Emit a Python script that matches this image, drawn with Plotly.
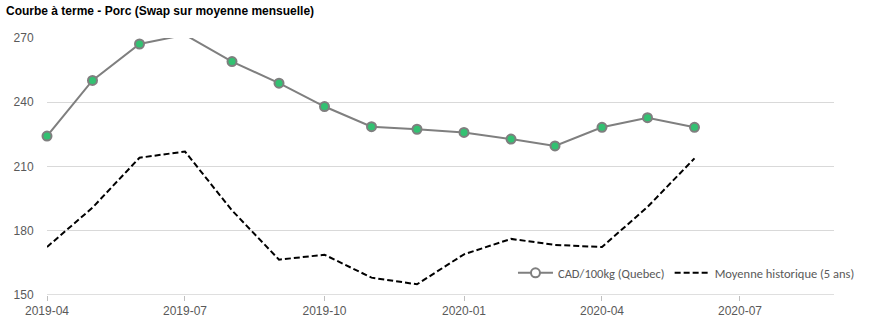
import plotly.graph_objects as go

months = ["2019-04-01", "2019-05-01", "2019-06-01", "2019-07-01", "2019-08-01",
          "2019-09-01", "2019-10-01", "2019-11-01", "2019-12-01", "2020-01-01",
          "2020-02-01", "2020-03-01", "2020-04-01", "2020-05-01", "2020-06-01"]
cad_quebec = [224.2, 250.2, 267.2, 271.5, 259.0, 248.9, 238.0, 228.6, 227.4,
              225.9, 222.8, 219.6, 228.3, 232.8, 228.3]
moyenne_hist = [172.4, 190.8, 214.1, 217.0, 189.5, 166.5, 168.8, 158.1, 155.0,
                169.0, 176.2, 173.4, 172.4, 191.1, 213.8]
y_ticks = [150, 180, 210, 240, 270]
x_ticks = ["2019-04-01", "2019-07-01", "2019-10-01", "2020-01-01", "2020-04-01", "2020-07-01"]
x_tick_labels = ["2019-04", "2019-07", "2019-10", "2020-01", "2020-04", "2020-07"]

Y_MAX = 270
marker_sizes = [0 if v > Y_MAX else 9 for v in cad_quebec]

GRAY = "#7f7f7f"
GREEN = "#33c172"
TEXT = "#595959"

fig = go.Figure()
fig.add_trace(go.Scatter(
    x=months, y=moyenne_hist, mode="lines", name="Moyenne historique (5 ans)",
    line=dict(color="black", width=2, dash="6px,3px"), legendrank=2,
))
fig.add_trace(go.Scatter(
    x=months, y=cad_quebec, mode="lines", showlegend=False,
    line=dict(color=GRAY, width=2),
))
fig.add_trace(go.Scatter(
    x=months, y=cad_quebec, mode="markers", showlegend=False, cliponaxis=False,
    marker=dict(size=marker_sizes, color=GREEN, opacity=1, line=dict(color=GRAY, width=2)),
))
fig.add_trace(go.Scatter(
    x=[None], y=[None], mode="lines+markers", name="CAD/100kg (Quebec)", legendrank=1,
    line=dict(color=GRAY, width=2),
    marker=dict(size=9, color="white", line=dict(color=GRAY, width=2)),
))

fig.update_layout(
    width=874, height=330,
    margin=dict(l=47, r=40, t=38, b=31),
    paper_bgcolor="white", plot_bgcolor="white",
    font=dict(family="Liberation Sans, Arial, sans-serif", size=12, color=TEXT),
    title=dict(text="<b>Courbe à terme - Porc (Swap sur moyenne mensuelle)</b>",
               x=0, xref="container", xanchor="left", y=1, yref="container", yanchor="top",
               pad=dict(l=6, t=7),
               font=dict(family="Liberation Sans, Arial, sans-serif", size=12, color="black")),
    xaxis=dict(
        type="date", range=["2019-04-01", "2020-09-01"],
        tickvals=x_ticks, ticktext=x_tick_labels,
        showgrid=False, showline=False, zeroline=False,
        ticks="outside", ticklen=5, tickcolor="#bfbfbf",
        tickfont=dict(size=12, color=TEXT),
    ),
    yaxis=dict(
        range=[150, 270], tickvals=y_ticks,
        showgrid=True, gridcolor="#d9d9d9", gridwidth=1,
        showline=False, zeroline=False, ticks="outside", ticklen=10,
        tickcolor="rgba(0,0,0,0)",
        tickfont=dict(size=12, color=TEXT),
    ),
    legend=dict(
        orientation="h", x=1.033, xanchor="right", y=0.085, yanchor="middle",
        bgcolor="rgba(255,255,255,0)",
        font=dict(family="Carlito, Liberation Sans, sans-serif", size=12.5, color=TEXT),
        itemwidth=35, traceorder="normal",
    ),
)
fig.add_shape(type="line", xref="paper", yref="y", x0=0, x1=1, y0=150, y1=150,
              line=dict(color="#bfbfbf", width=1), layer="below")

fig.write_html("out.html")
